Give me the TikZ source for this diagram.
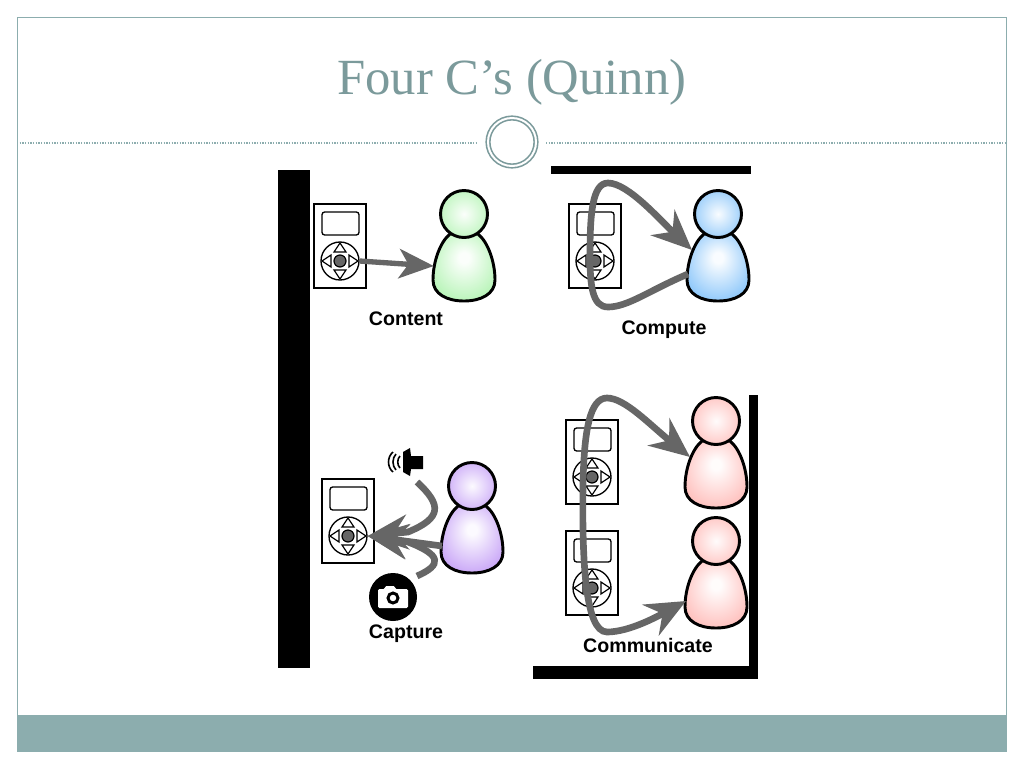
\documentclass[tikz,border=0pt]{standalone}
\usepackage{fontspec}
\setmainfont{Liberation Serif}
\setsansfont{Liberation Sans}
\usetikzlibrary{arrows.meta}

\definecolor{framecol}{HTML}{8CADAE}
\definecolor{titlecol}{HTML}{7B9A9B}
\definecolor{flowcol}{HTML}{666666}
\definecolor{bodylight}{HTML}{FFFFFF}
\definecolor{bodydark}{HTML}{000000}
\definecolor{greenbody}{HTML}{9CF09C}
\definecolor{bluebody}{HTML}{62B2F8}
\definecolor{purplebody}{HTML}{B484F4}
\definecolor{redbody}{HTML}{FFA8A4}
\pgfdeclareradialshading[bodylight,bodydark]{bodyglow}{\pgfpoint{0bp}{8bp}}{color(0bp)=(bodylight); color(4bp)=(bodylight); color(40bp)=(bodydark); color(50bp)=(bodydark)}

\tikzset{
    flow/.style={draw=flowcol, line width=5pt, -{Stealth[length=30pt, width=26pt, inset=10pt]}},
    flowtwo/.style={draw=flowcol, line width=5pt, {Stealth[length=30pt, width=26pt, inset=10pt]}-{Stealth[length=30pt, width=26pt, inset=10pt]}},
    flowthin/.style={draw=flowcol, line width=4pt, -{Stealth[length=26pt, width=22pt, inset=7pt]}},
    caption/.style={font=\sffamily\bfseries\fontsize{14.7pt}{16pt}\selectfont, text=black, inner sep=0pt},
    bar/.style={fill=black},
    pics/device/.style={code={
        \draw[line width=1pt] (-26,-57) rectangle (26,27);
        \draw[line width=1pt, rounded corners=2pt] (-18,-49) rectangle (19,-26);
        \node[draw, circle, line width=1pt, minimum size=28.5pt, inner sep=0pt] (-pad) at (0,0) {};
        \draw[fill=flowcol, line width=0.9pt] (0,0) circle [radius=6];
        \draw[line width=0.9pt] (-6,-9) -- (6,-9) -- (0,-18) -- cycle;
        \draw[line width=0.9pt] (-6,9) -- (6,9) -- (0,18) -- cycle;
        \draw[line width=0.9pt] (9,-6) -- (9,6) -- (18,0) -- cycle;
        \draw[line width=0.9pt] (-9,-6) -- (-9,6) -- (-18,0) -- cycle;
    }},
    pics/person/.style={code={
        \colorlet{bodylight}{#1!4!white}
        \colorlet{bodydark}{#1}
        \draw[line width=2.2pt, shading=bodyglow] (-14,20) .. controls (-24,28) and (-31,48) .. (-31,66)
            .. controls (-31,80) and (-17,87) .. (0,87) .. controls (17,87) and (31,80) .. (31,66)
            .. controls (31,48) and (24,28) .. (14,20) -- cycle;
        \draw[line width=2.2pt, inner color=#1!4!white, outer color=#1!60!white] (0,0) circle [radius=23.5];
        \node[minimum width=45pt, minimum height=30pt, inner sep=0pt] (-body) at (0,52) {};
        \coordinate (-in) at (-26,36);
        \coordinate (-low) at (-30,60);
    }},
}

\begin{document}
\begin{tikzpicture}[x=0.75pt, y=-0.75pt]

            \useasboundingbox (0,0) rectangle (1024,768);
            \fill[white] (0,0) rectangle (1024,768);

            \fill[framecol] (17,715) rectangle (1006,751);
            \draw[framecol, line width=0.75pt] (17,17) rectangle (1006,751);
            \draw[framecol, line width=1pt, densely dotted] (17,143) -- (478,143);
            \draw[framecol, line width=1pt, densely dotted] (546,143) -- (1006,143);
            \node[draw=titlecol, fill=white, circle, line width=1.2pt, double=white, double distance=1.5pt, minimum size=36pt, inner sep=0pt] (ring) at (512,142) {};
            \node[text=titlecol, font=\fontsize{38pt}{41pt}\selectfont, inner sep=0pt] (title) at (512,82) {Four C’s (Quinn)};

            \fill[bar] (278,170) rectangle (310,668);
            \fill[bar] (551,166) rectangle (751,174);
            \fill[bar] (749,395) rectangle (758,679);
            \fill[bar] (533,666) rectangle (758,679);

            \pic (d1) at (340,261) {device};
            \pic (d2) at (595,261) {device};
            \pic (d3) at (348,536) {device};
            \pic (d4) at (592,477) {device};
            \pic (d5) at (592,588) {device};

            \pic (p1) at (464,214) {person=greenbody};
            \pic (p2) at (718,214) {person=bluebody};
            \pic (p3) at (472,486) {person=purplebody};
            \pic (p4) at (716,421) {person=redbody};
            \pic (p5) at (716,541) {person=redbody};

            \draw[flowthin] (d1-pad.east) -- (p1-body.west);
            \draw[flow] (p2-low) .. controls (650,290) and (628,307) .. (608,307)
                .. controls (592,307) and (590,285) .. (590,255)
                .. controls (590,215) and (592,183) .. (608,183)
                .. controls (628,183) and (660,220) .. (p2-in);

            \coordinate (soundend) at (417,482);
            \coordinate (photoend) at (417,576);
            \draw[flow] (p3-low) -- (d3-pad.east);
            \draw[flow] (soundend) .. controls (442,505) and (442,518) .. (408,532) -- (d3-pad.east);
            \draw[flow] (photoend) .. controls (442,565) and (442,555) .. (408,542) -- (d3-pad.east);

            \draw[flowtwo] (p4-in) .. controls (650,425) and (625,398) .. (607,398)
                .. controls (590,398) and (584,430) .. (583,485)
                .. controls (582,560) and (585,632) .. (607,632)
                .. controls (630,632) and (660,615) .. (p5-low);

            \fill (403,452) -- (410,448) -- (411,456) -- (423,456) -- (423,469) -- (411,469) -- (410,476) -- (403,472) -- cycle;
            \draw[line width=1.2pt] (400,456) .. controls (397,459) and (397,465) .. (400,468);
            \draw[line width=1.2pt] (396,454) .. controls (392,458) and (392,466) .. (396,470);
            \draw[line width=1.2pt] (393,452) .. controls (387,457) and (387,467) .. (393,472);

            \node[fill=black, circle, minimum size=36pt, inner sep=0pt] (photo) at (393,597) {};
            \fill[white, rounded corners=1pt] (378,589) -- (385,589) -- (385,586) -- (395,586) -- (395,589) -- (408,589) -- (408,608) -- (378,608) -- cycle;
            \draw[line width=2.2pt] (393,598) circle [radius=5];

            \node[caption] (contentlabel) at (406,319) {Content};
            \node[caption] (computelabel) at (664,330) {Compute};
            \node[caption] (capturelabel) at (406,634) {Capture};
            \node[caption] (communicatelabel) at (648,645) {Communicate};

\end{tikzpicture}
\end{document}
